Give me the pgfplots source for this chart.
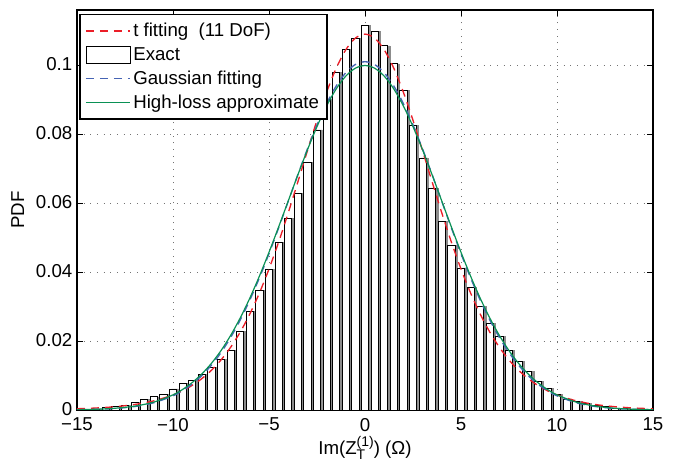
\documentclass[border=0pt]{standalone}
\usepackage{fontspec}
\setmainfont{Liberation Sans}
\usepackage{pgfplots}
\pgfplotsset{compat=1.18}

\definecolor{fitred}{RGB}{235,30,40}
\definecolor{fitblue}{RGB}{70,100,180}
\definecolor{fitgreen}{RGB}{10,145,85}

% histogram (bin width 0.5)
\pgfplotstableread{
x y
-14.5 0.0002
-14 0.0003
-13.5 0.0007
-13 0.0011
-12.5 0.0014
-12 0.0021
-11.5 0.0031
-11 0.0038
-10.5 0.0045
-10 0.0061
-9.5 0.0077
-9 0.0085
-8.5 0.0103
-8 0.0124
-7.5 0.0147
-7 0.0172
-6.5 0.0227
-6 0.0287
-5.5 0.0346
-5 0.0408
-4.5 0.0485
-4 0.0556
-3.5 0.0629
-3 0.0717
-2.5 0.0812
-2 0.0901
-1.5 0.0978
-1 0.1045
-0.5 0.1077
0 0.1116
0.5 0.1098
1 0.1056
1.5 0.1004
2 0.0927
2.5 0.0826
3 0.0731
3.5 0.0644
4 0.0548
4.5 0.0477
5 0.0412
5.5 0.0355
6 0.0301
6.5 0.0251
7 0.0214
7.5 0.0172
8 0.0140
8.5 0.0111
9 0.0084
9.5 0.0062
10 0.0045
10.5 0.0032
11 0.0025
11.5 0.0019
12 0.0014
12.5 0.0010
13 0.0006
13.5 0.0004
14 0.0002
14.5 0.0001
}\histdata

\begin{document}
\begin{tikzpicture}
\begin{axis}[
  scale only axis,
  width=432pt, height=300pt,
  xmin=-15, xmax=15, ymin=0, ymax=0.116,
  xtick={-15,-10,-5,0,5,10,15},
  xticklabels={−15,−10,−5,0,5,10,15},
  ytick={0,0.02,0.04,0.06,0.08,0.1},
  yticklabels={0,0.02,0.04,0.06,0.08,0.1},
  tick align=inside, tick pos=both,
  major tick length=4.5pt,
  tick style={black, line width=0.6pt},
  axis line style={black, line width=1pt},
  grid=major,
  grid style={black!55, line width=0.6pt, dash pattern=on 0.7pt off 4.3pt},
  font=\fontsize{14}{16}\selectfont,
  xticklabel style={yshift=-2.5pt},
  yticklabel style={yshift=1pt},
  xlabel={Im(Z\rlap{\raisebox{-0.5ex}{\fontsize{10.5}{11}\selectfont T}}\raisebox{0.85ex}{\fontsize{10.5}{11}\selectfont(1)}) (Ω)},
  xlabel style={yshift=3pt},
  ylabel={PDF},
  ylabel style={yshift=2pt},
  legend cell align=left,
  legend style={at={(0.004,0.99)}, anchor=north west, draw=black,
    line width=1pt, inner xsep=4pt, inner ysep=4.5pt, row sep=2.4pt,
    font=\fontsize{14}{15}\selectfont},
  legend image code/.code={\draw[#1] (0pt,0pt) -- (33pt,0pt);},
]
% shaded edge of the bars
\addplot[ybar, bar width=0.38, bar shift=0.1, fill=black!45, draw=black!45,
  line width=0.4pt, forget plot] table[x=x, y=y] {\histdata};
% exact histogram
\addplot[ybar, bar width=0.38, bar shift=0, fill=white, draw=black,
  line width=0.6pt, forget plot] table[x=x, y=y] {\histdata};

% t fitting (11 DoF)
\addplot[draw=fitred, line width=1pt, dash pattern=on 6pt off 4.5pt, smooth, forget plot] coordinates {
(-15,0.00036) (-14,0.00058) (-13,0.00096) (-12,0.00159) (-11,0.00265) (-10,0.00436)
(-9.5,0.00559) (-9,0.00714) (-8.5,0.00909) (-8,0.01151) (-7.5,0.01451) (-7,0.01818)
(-6.5,0.02258) (-6,0.02782) (-5.5,0.03392) (-5,0.04089) (-4.5,0.04868) (-4,0.05715)
(-3.5,0.06609) (-3,0.07516) (-2.5,0.08400) (-2,0.09214) (-1.5,0.09911) (-1,0.10447)
(-0.5,0.10785) (0,0.10900) (0.5,0.10785) (1,0.10447) (1.5,0.09911) (2,0.09214)
(2.5,0.08400) (3,0.07516) (3.5,0.06609) (4,0.05715) (4.5,0.04868) (5,0.04089)
(5.5,0.03392) (6,0.02782) (6.5,0.02258) (7,0.01818) (7.5,0.01451) (8,0.01151)
(8.5,0.00909) (9,0.00714) (9.5,0.00559) (10,0.00436) (11,0.00265) (12,0.00159)
(13,0.00096) (14,0.00058) (15,0.00036)
};
% Gaussian fitting
\addplot[draw=fitblue, line width=1pt, dash pattern=on 6pt off 4.5pt, smooth, forget plot] coordinates {
(-15,0.00007) (-14,0.00019) (-13,0.00045) (-12,0.00100) (-11,0.00209) (-10,0.00410)
(-9.5,0.00560) (-9,0.00753) (-8.5,0.00997) (-8,0.01299) (-7.5,0.01665) (-7,0.02101)
(-6.5,0.02608) (-6,0.03186) (-5.5,0.03831) (-5,0.04533) (-4.5,0.05278) (-4,0.06049)
(-3.5,0.06821) (-3,0.07569) (-2.5,0.08267) (-2,0.08885) (-1.5,0.09397) (-1,0.09781)
(-0.5,0.10019) (0,0.10100) (0.5,0.10019) (1,0.09781) (1.5,0.09397) (2,0.08885)
(2.5,0.08267) (3,0.07569) (3.5,0.06821) (4,0.06049) (4.5,0.05278) (5,0.04533)
(5.5,0.03831) (6,0.03186) (6.5,0.02608) (7,0.02101) (7.5,0.01665) (8,0.01299)
(8.5,0.00997) (9,0.00753) (9.5,0.00560) (10,0.00410) (11,0.00209) (12,0.00100)
(13,0.00045) (14,0.00019) (15,0.00007)
};
% high-loss approximate
\addplot[draw=fitgreen, line width=0.9pt, smooth, forget plot] coordinates {
(-15,0.00009) (-14,0.00022) (-13,0.00051) (-12,0.00111) (-11,0.00228) (-10,0.00439)
(-9.5,0.00595) (-9,0.00795) (-8.5,0.01045) (-8,0.01352) (-7.5,0.01722) (-7,0.02161)
(-6.5,0.02668) (-6,0.03243) (-5.5,0.03882) (-5,0.04574) (-4.5,0.05306) (-4,0.06059)
(-3.5,0.06813) (-3,0.07541) (-2.5,0.08218) (-2,0.08816) (-1.5,0.09312) (-1,0.09683)
(-0.5,0.09912) (0,0.09990) (0.5,0.09912) (1,0.09683) (1.5,0.09312) (2,0.08816)
(2.5,0.08218) (3,0.07541) (3.5,0.06813) (4,0.06059) (4.5,0.05306) (5,0.04574)
(5.5,0.03882) (6,0.03243) (6.5,0.02668) (7,0.02161) (7.5,0.01722) (8,0.01352)
(8.5,0.01045) (9,0.00795) (9.5,0.00595) (10,0.00439) (11,0.00228) (12,0.00111)
(13,0.00051) (14,0.00022) (15,0.00009)
};

\addlegendimage{draw=fitred, line width=1pt, dash pattern=on 6pt off 4.5pt}
\addlegendentry{t fitting\ \ (11 DoF)}
\addlegendimage{legend image code/.code={\draw[draw=black, fill=white, line width=0.6pt] (0pt,-6.5pt) rectangle (33pt,6.5pt);}}
\addlegendentry{Exact}
\addlegendimage{draw=fitblue, line width=1pt, dash pattern=on 6pt off 4.5pt}
\addlegendentry{Gaussian fitting}
\addlegendimage{draw=fitgreen, line width=0.9pt}
\addlegendentry{High-loss approximate}
\end{axis}
\pgfresetboundingbox
\path (current axis.south west) ++(-57.75pt,-39pt) coordinate (bbsw);
\path (current axis.north east) ++(24pt,7.5pt) coordinate (bbne);
\useasboundingbox (bbsw) rectangle (bbne);
\end{tikzpicture}
\end{document}
